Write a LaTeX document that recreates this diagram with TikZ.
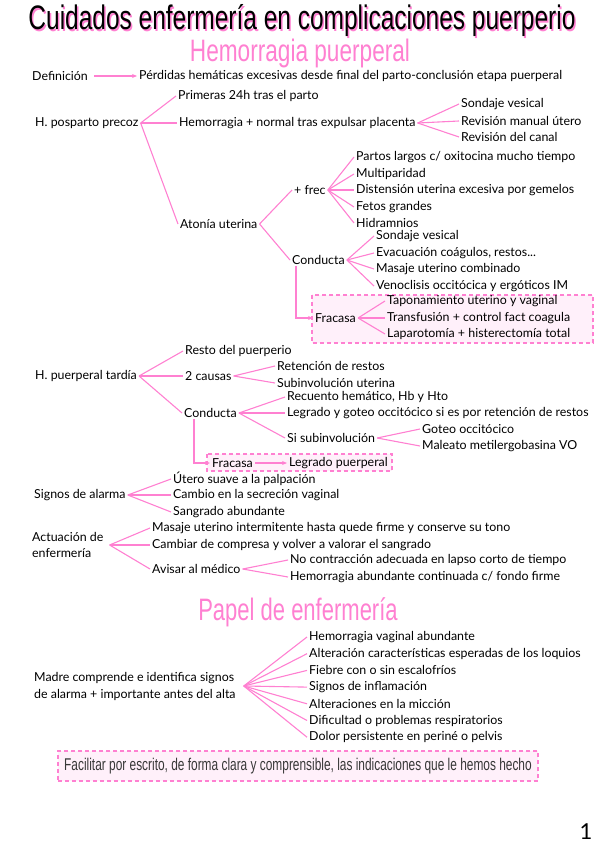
\documentclass[tikz,border=0pt]{standalone}
\usepackage{fontspec}
\setmainfont{Lato}
\newfontfamily\titulofont{Liberation Sans}
\usetikzlibrary{arrows.meta}
\definecolor{rosa}{rgb}{1.0, 0.5, 0.82}
\definecolor{rosaclaro}{rgb}{1.0, 0.94, 0.98}
\definecolor{gristexto}{rgb}{0.22, 0.22, 0.22}
\newcommand{\letra}{\fontsize{12.4}{16}\selectfont}
\tikzset{
  txt/.style={anchor=west, inner xsep=2pt, inner ysep=1pt, font=\letra},
  rama/.style={draw=rosa, line width=1.1pt},
  flecha/.style={rama, -{Stealth[length=5pt,width=4pt]}},
  caja/.style={draw=rosa, fill=rosaclaro, line width=1.1pt, dash pattern=on 4pt off 3pt},
  grande/.style={anchor=base, font=\titulofont\fontsize{34}{34}\selectfont},
  apartado/.style={anchor=base, text=rosa, font=\titulofont\fontsize{31}{31}\selectfont},
}
\begin{document}
\begin{tikzpicture}[x=1pt, y=-1pt]
\useasboundingbox (0,0) rectangle (599,848);

\node[grande, text=rosa] (sombra) at (303.5,31.5) {\scalebox{0.72}[1]{Cuidados enfermería en complicaciones puerperio}};
\node[grande] (titulo) at (302,30) {\scalebox{0.72}[1]{Cuidados enfermería en complicaciones puerperio}};
\node[apartado] (hemorragia) at (300,62) {\scalebox{0.73}[1]{Hemorragia puerperal}};

\node[txt] (def) at (30,76) {Definición};
\node[txt] (perd) at (137,76) {Pérdidas hemáticas excesivas desde final del parto-conclusión etapa puerperal};
\draw[flecha] (def.east) ++(4,0) -- (perd.west);

% hemorragia precoz
\node[txt] (hpp) at (33,123) {H. posparto precoz};
\node[txt] (prim) at (176,96) {Primeras 24h tras el parto};
\node[txt] (hemo) at (177,123) {Hemorragia + normal tras expulsar placenta};
\node[txt] (aton) at (178,224) {Atonía uterina};
\foreach \h in {prim,hemo,aton} \draw[rama] (hpp.east) -- (\h.west);

\node[txt] (sond1) at (459,104) {Sondaje vesical};
\node[txt] (revm) at (459,121) {Revisión manual útero};
\node[txt] (revc) at (459,137) {Revisión del canal};
\foreach \h in {sond1,revm,revc} \draw[rama] (hemo.east) -- (\h.west);

\node[txt] (frec) at (292,190) {+ frec};
\node[txt] (cond1) at (290,260) {Conducta};
\foreach \h in {frec,cond1} \draw[rama] (aton.east) -- (\h.west);

\node[txt] (partos) at (354,157) {Partos largos c/ oxitocina mucho tiempo};
\node[txt] (multi) at (354,174) {Multiparidad};
\node[txt] (dist) at (354,190) {Distensión uterina excesiva por gemelos};
\node[txt] (fetos) at (354,207) {Fetos grandes};
\node[txt] (hidra) at (354,223) {Hidramnios};
\foreach \h in {partos,multi,dist,fetos,hidra} \draw[rama] (frec.east) -- (\h.west);

\node[txt] (sond2) at (374,236) {Sondaje vesical};
\node[txt] (evac) at (374,253) {Evacuación coágulos, restos...};
\node[txt] (masa) at (374,269) {Masaje uterino combinado};
\node[txt] (veno) at (374,286) {Venoclisis occitócica y ergóticos IM};
\foreach \h in {sond2,evac,masa,veno} \draw[rama] (cond1.east) -- (\h.west);

\draw[caja] (312,295) rectangle (593,343);
\node[txt] (frac1) at (313,318) {Fracasa};
\node[txt] (tapo) at (385,301) {Taponamiento uterino y vaginal};
\node[txt] (trans) at (385,318) {Transfusión + control fact coagula};
\node[txt] (lapa) at (385,334) {Laparotomía + histerectomía total};
\foreach \h in {tapo,trans,lapa} \draw[rama] (frac1.east) -- (\h.west);
\draw[flecha] ([xshift=6pt]cond1.south west) |- (frac1.west);

% hemorragia tardia
\node[txt] (hpt) at (33,376) {H. puerperal tardía};
\node[txt] (resto) at (183,351) {Resto del puerperio};
\node[txt] (causas) at (183,376) {2 causas};
\node[txt] (cond2) at (182,413) {Conducta};
\foreach \h in {resto,causas,cond2} \draw[rama] (hpt.east) -- (\h.west);

\node[txt] (reten) at (275,366) {Retención de restos};
\node[txt] (subin) at (275,383) {Subinvolución uterina};
\foreach \h in {reten,subin} \draw[rama] (causas.east) -- (\h.west);

\node[txt] (recu) at (285,397) {Recuento hemático, Hb y Hto};
\node[txt] (legr) at (285,413) {Legrado y goteo occitócico si es por retención de restos};
\node[txt] (sisub) at (285,438) {Si subinvolución};
\foreach \h in {recu,legr,sisub} \draw[rama] (cond2.east) -- (\h.west);

\node[txt] (goteo) at (420,429) {Goteo occitócico};
\node[txt] (malea) at (420,446) {Maleato metilergobasina VO};
\foreach \h in {goteo,malea} \draw[rama] (sisub.east) -- (\h.west);

\draw[caja] (207,454) rectangle (392,471);
\node[txt] (frac2) at (210,463) {Fracasa};
\node[txt] (legp) at (287,463) {Legrado puerperal};
\draw[flecha] ([xshift=12pt]cond2.south west) |- (frac2.west);
\draw[flecha] (frac2.east) -- (legp.west);

% signos y actuacion
\node[txt] (signos) at (32,495) {Signos de alarma};
\node[txt] (utero) at (171,479) {Útero suave a la palpación};
\node[txt] (cambio) at (171,495) {Cambio en la secreción vaginal};
\node[txt] (sangr) at (171,512) {Sangrado abundante};
\foreach \h in {utero,cambio,sangr} \draw[rama] (signos.east) -- (\h.west);

\node[txt, align=left] (actu) at (30,545) {Actuación de\\enfermería};
\node[txt] (masa2) at (150,528) {Masaje uterino intermitente hasta quede firme y conserve su tono};
\node[txt] (comp) at (150,545) {Cambiar de compresa y volver a valorar el sangrado};
\node[txt] (avis) at (150,569) {Avisar al médico};
\foreach \h in {masa2,comp,avis} \draw[rama] ([xshift=4pt]actu.east) -- (\h.west);

\node[txt] (nocon) at (288,560) {No contracción adecuada en lapso corto de tiempo};
\node[txt] (hemab) at (288,577) {Hemorragia abundante continuada c/ fondo firme};
\foreach \h in {nocon,hemab} \draw[rama] (avis.east) -- (\h.west);

% papel de enfermeria
\node[apartado] (papel) at (298,620) {\scalebox{0.71}[1]{Papel de enfermería}};
\node[txt, align=left, font=\fontsize{12.4}{17}\selectfont] (madre) at (32,686) {Madre comprende e identifica signos\\de alarma + importante antes del alta};
\foreach \n/\t [count=\i from 0] in {
  hva/Hemorragia vaginal abundante,
  alt/Alteración características esperadas de los loquios,
  fie/Fiebre con o sin escalofríos,
  inf/Signos de inflamación,
  mic/Alteraciones en la micción,
  res/Dificultad o problemas respiratorios,
  dol/Dolor persistente en periné o pelvis}
{
  \node[txt] (\n) at (307,637+16.7*\i) {\t};
  \draw[rama] ([xshift=6pt]madre.east) -- (\n.west);
}

\node[caja, minimum width=480pt, minimum height=30pt, text=gristexto,
  font=\titulofont\fontsize{17}{17}\selectfont] (facilitar) at (298,766)
  {\scalebox{0.7}[1]{Facilitar por escrito, de forma clara y comprensible, las indicaciones que le hemos hecho}};

\node[font=\fontsize{22}{22}\selectfont] (pagina) at (586,832) {1};
\end{tikzpicture}
\end{document}
